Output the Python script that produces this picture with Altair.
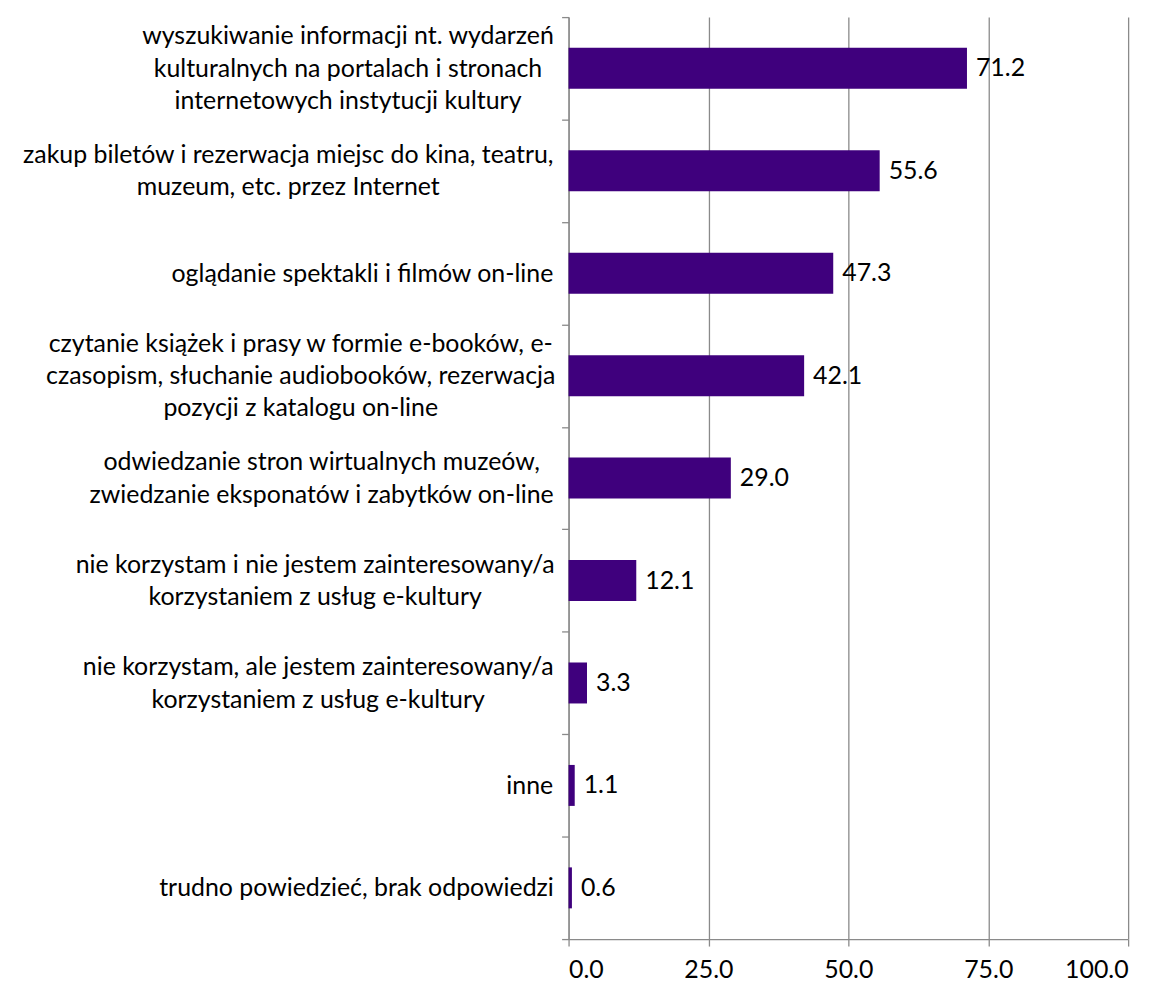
import json
import altair as alt
import pandas as pd

categories = [
    "wyszukiwanie informacji nt. wydarzeń|kulturalnych na portalach i stronach|internetowych instytucji kultury",
    "zakup biletów i rezerwacja miejsc do kina, teatru,|muzeum, etc. przez Internet",
    "oglądanie spektakli i filmów on-line",
    "czytanie książek i prasy w formie e-booków, e-|czasopism, słuchanie audiobooków, rezerwacja|pozycji z katalogu on-line",
    "odwiedzanie stron wirtualnych muzeów,|zwiedzanie eksponatów i zabytków on-line",
    "nie korzystam i nie jestem zainteresowany/a|korzystaniem z usług e-kultury",
    "nie korzystam, ale jestem zainteresowany/a|korzystaniem z usług e-kultury",
    "inne",
    "trudno powiedzieć, brak odpowiedzi",
]
values = [71.2, 55.6, 47.3, 42.1, 29.0, 12.1, 3.3, 1.1, 0.6]
x_ticks = [0, 25, 50, 75, 100]

# approximate width (px) of the widest line of each label, for centred label blocks
block_widths = [410, 530, 381, 505, 463, 476, 470, 45, 393]

df = pd.DataFrame({"cat": categories, "val": values})

FONT = "Lato"
FS = 25
LH = 32.5
GRAY = "#8a8a8a"
GAP = 10

pad_cond = {
    "condition": [
        {"test": f"datum.value === {json.dumps(c)}", "value": w / 2 + GAP}
        for c, w in zip(categories, block_widths)
    ],
    "value": GAP,
}
off_cond = {
    "condition": [
        {"test": "length(split(datum.value, '|')) == 3", "value": -LH},
        {"test": "length(split(datum.value, '|')) == 2", "value": -LH / 2},
    ],
    "value": 0,
}

y_enc = alt.Y(
    "cat:N",
    sort=None,
    title=None,
    scale=alt.Scale(paddingInner=0, paddingOuter=0),
    axis=alt.Axis(
        labelExpr="split(datum.label, '|')",
        labelFont=FONT,
        labelFontSize=FS,
        labelColor="#000000",
        labelLineHeight=LH,
        labelAlign="center",
        labelPadding=pad_cond,
        labelOffset=off_cond,
        labelLimit=700,
        tickBand="extent",
        tickSize=7,
        tickColor=GRAY,
        domainColor=GRAY,
        tickWidth=1.3,
        domainWidth=1.3,
        grid=False,
    ),
)

x_enc = alt.X(
    "val:Q",
    title=None,
    scale=alt.Scale(domain=[0, 100], nice=False),
    axis=alt.Axis(
        values=x_ticks,
        format=".1f",
        labelFont=FONT,
        labelFontSize=FS,
        labelColor="#000000",
        labelPadding=12,
        tickSize=7,
        tickColor=GRAY,
        domainColor=GRAY,
        gridColor=GRAY,
        tickWidth=1.3,
        domainWidth=1.3,
        gridWidth=1.3,
        gridOpacity=1,
    ),
)

bars = alt.Chart(df).mark_bar(color="#3F007D", height=alt.RelativeBandSize(0.4)).encode(
    x=x_enc, y=y_enc
)
labels = alt.Chart(df).mark_text(
    align="left", baseline="middle", dx=9, font=FONT, fontSize=FS, color="#000000"
).encode(
    x="val:Q",
    y=alt.Y("cat:N", sort=None),
    text=alt.Text("val:Q", format=".1f"),
)

chart = (
    alt.layer(bars, labels)
    .properties(
        width=562,
        height=926,
        autosize=alt.AutoSizeParams(type="none"),
        padding={"left": 563, "top": 7, "right": 30, "bottom": 50},
    )
    .configure_view(stroke=None)
)

chart.save("out.html", embed_options={"renderer": "svg", "actions": False})
